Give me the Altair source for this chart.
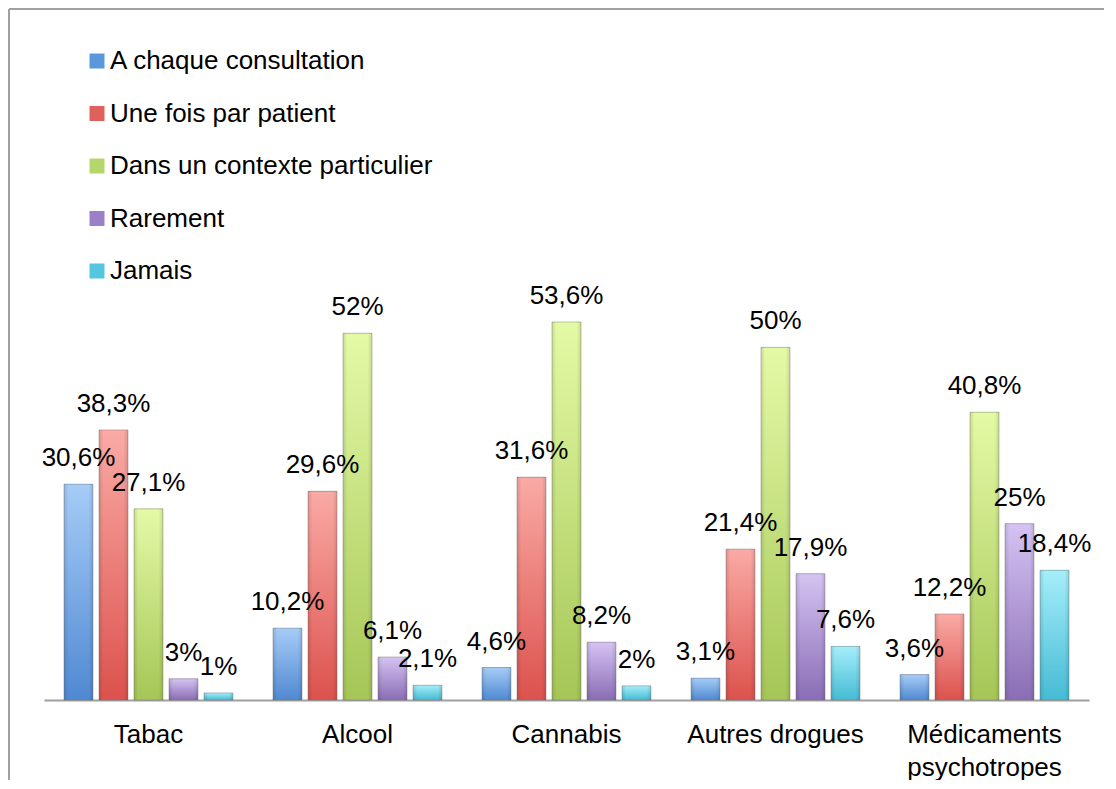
import altair as alt
import pandas as pd

categories = ["Tabac", "Alcool", "Cannabis", "Autres drogues", "Médicaments psychotropes"]
series = ["A chaque consultation", "Une fois par patient", "Dans un contexte particulier", "Rarement", "Jamais"]
colors = ["#5B97DC", "#E0605B", "#B5D66A", "#9A80C8", "#55C6DE"]
top_colors = ["#A6CCF7", "#FAAAA5", "#E4FAA6", "#D5C3F2", "#A5EEFA"]
bottom_colors = ["#5089D2", "#DC524D", "#A5C656", "#8A6DB5", "#45BBD4"]

a_chaque = [30.6, 10.2, 4.6, 3.1, 3.6]
une_fois = [38.3, 29.6, 31.6, 21.4, 12.2]
contexte = [27.1, 52, 53.6, 50, 40.8]
rarement = [3, 6.1, 8.2, 17.9, 25]
jamais = [1, 2.1, 2, 7.6, 18.4]

values_by_series = [a_chaque, une_fois, contexte, rarement, jamais]

rows = []
for s, vals in zip(series, values_by_series):
    for c, v in zip(categories, vals):
        rows.append({"cat": c, "serie": s, "v": v,
                     "lab": f"{v:g}".replace(".", ",") + "%"})
df = pd.DataFrame(rows)

FONT = "Liberation Sans"

x_enc = alt.X("cat:N", sort=categories, scale=alt.Scale(paddingInner=0, paddingOuter=0),
              axis=alt.Axis(title=None, labelAngle=0, ticks=False, grid=False,
                            domainColor="#a0a0a0", domainWidth=2,
                            labelFontSize=26, labelColor="black", labelFont=FONT,
                            labelPadding=21, labelLineHeight=33,
                            labelExpr="datum.label == 'Médicaments psychotropes' ? ['Médicaments', 'psychotropes'] : datum.label"))
xo_enc = alt.XOffset("serie:N", sort=series, scale=alt.Scale(paddingInner=0.171, paddingOuter=0.571))
y_enc = alt.Y("v:Q", scale=alt.Scale(domain=[0, 95], nice=False, zero=True), axis=None)

base = alt.Chart(df)

bars = base.mark_bar().encode(
    x=x_enc, xOffset=xo_enc, y=y_enc,
    color=alt.Color("serie:N", sort=series, scale=alt.Scale(domain=series, range=colors),
                    legend=alt.Legend(title=None, orient="none", legendX=40, legendY=18,
                                      symbolType="square", symbolSize=225, symbolStrokeWidth=0,
                                      labelFontSize=26, labelFont=FONT, labelColor="black",
                                      labelOffset=0, rowPadding=26.5, padding=0, labelLimit=600,
                                      symbolOpacity=1))
)

grad_layers = []
for s, tc, bc in zip(series, top_colors, bottom_colors):
    grad_layers.append(
        base.transform_filter(alt.datum.serie == s).mark_bar(
            stroke="#6f6f6f", strokeOpacity=0.4, strokeWidth=1,
            fill=alt.LinearGradient(
                gradient="linear", x1=0, x2=0, y1=0, y2=1,
                stops=[alt.GradientStop(color=tc, offset=0),
                       alt.GradientStop(color=bc, offset=1)])).encode(
            x=alt.X("cat:N", sort=categories),
            xOffset=alt.XOffset("serie:N", sort=series),
            y="v:Q")
    )

edges = base.mark_bar(fill=alt.LinearGradient(
    gradient="linear", x1=0, x2=1, y1=0, y2=0,
    stops=[alt.GradientStop(color="rgba(0,0,0,0.12)", offset=0),
           alt.GradientStop(color="rgba(0,0,0,0)", offset=0.15),
           alt.GradientStop(color="rgba(0,0,0,0)", offset=0.85),
           alt.GradientStop(color="rgba(0,0,0,0.12)", offset=1)])).encode(
    x=alt.X("cat:N", sort=categories), xOffset=alt.XOffset("serie:N", sort=series), y="v:Q"
)

labels = base.mark_text(font=FONT, fontSize=26, color="black", dy=-18, baseline="alphabetic").encode(
    x=alt.X("cat:N", sort=categories), xOffset=alt.XOffset("serie:N", sort=series), y="v:Q",
    text="lab:N"
)

frame_data = alt.Data(values=[{"a": 1}])
frame_left = alt.Chart(frame_data).mark_rule(color="#a0a0a0", strokeWidth=2).encode(
    x=alt.value(-35), y=alt.value(-21), y2=alt.value(800))
frame_top = alt.Chart(frame_data).mark_rule(color="#a0a0a0", strokeWidth=2).encode(
    x=alt.value(-35), x2=alt.value(1100), y=alt.value(-21))

chart = alt.layer(frame_left, frame_top, bars, *grad_layers, edges, labels).properties(
    width=1045, height=670,
    autosize="none",
    padding={"left": 36, "top": 22, "right": 15, "bottom": 80},
).configure(font=FONT).configure_view(stroke="transparent", strokeWidth=0)

chart.save("out.html", embed_options={"renderer": "svg", "actions": False})
